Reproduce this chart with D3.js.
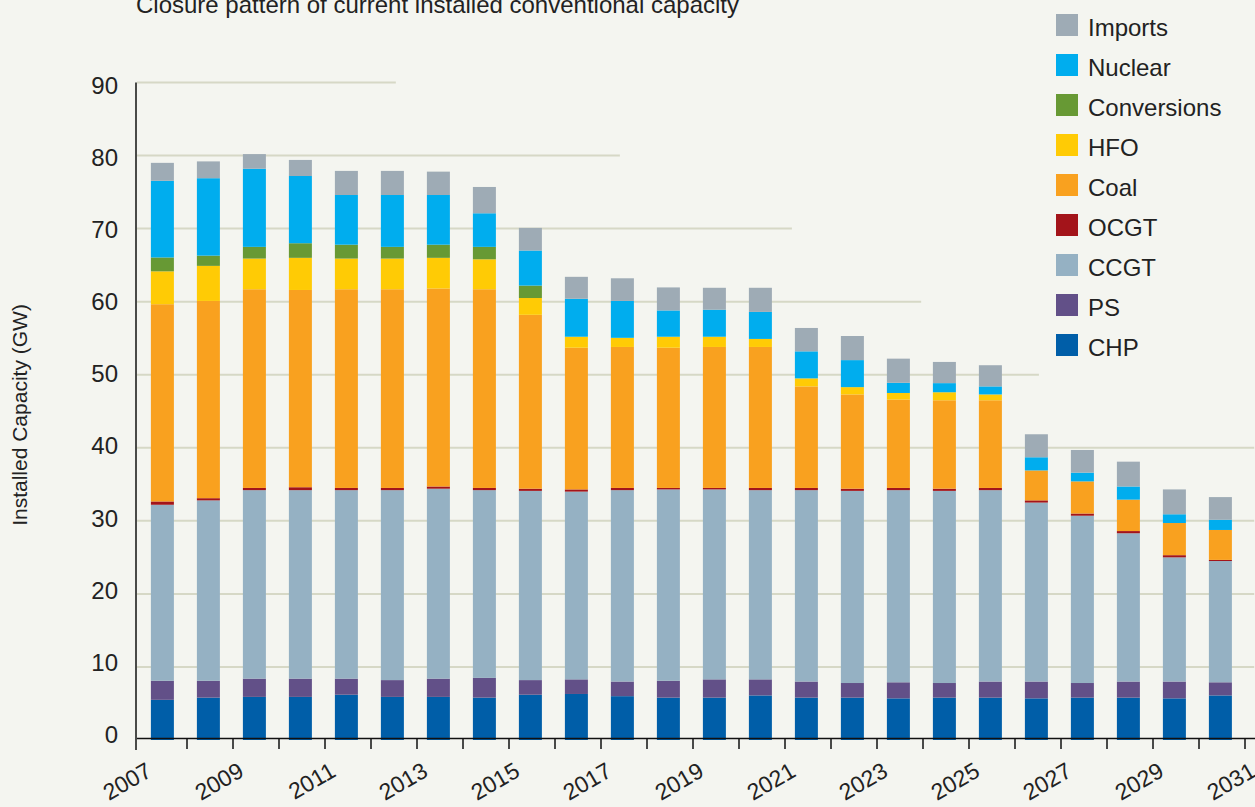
<!DOCTYPE html>
<html>
<head>
<meta charset="utf-8">
<script src="https://cdn.jsdelivr.net/npm/d3@7/dist/d3.min.js"></script>
<style>
  html, body { margin: 0; padding: 0; background: #f4f5f0; }
  svg { display: block; font-family: "Liberation Sans", Arial, sans-serif; }
</style>
</head>
<body>
<svg id="chart" width="1255" height="807"></svg>
<script>
// ---- data ----
const years = [2007,2008,2009,2010,2011,2012,2013,2014,2015,2016,2017,2018,2019,2020,2021,2022,2023,2024,2025,2026,2027,2028,2029,2030];
const chp        = [5.5,5.8,5.9,5.9,6.2,5.9,5.9,5.8,6.2,6.3,6.0,5.8,5.8,6.1,5.8,5.8,5.7,5.8,5.8,5.7,5.8,5.8,5.7,6.1];
const ps         = [2.6,2.3,2.5,2.5,2.2,2.3,2.5,2.7,2.0,2.0,2.0,2.3,2.5,2.2,2.2,2.0,2.2,2.0,2.2,2.3,2.0,2.2,2.3,1.8];
const ccgt       = [24.1,24.7,25.8,25.8,25.8,26.0,26.0,25.7,25.9,25.7,26.2,26.2,26.0,25.9,26.2,26.3,26.3,26.3,26.2,24.5,22.9,20.3,17.0,16.6];
const ocgt       = [0.45,0.3,0.3,0.4,0.3,0.3,0.3,0.3,0.3,0.3,0.3,0.2,0.2,0.3,0.3,0.3,0.3,0.3,0.3,0.3,0.3,0.3,0.3,0.15];
const coal       = [27.0,27.0,27.2,27.0,27.2,27.2,27.1,27.2,23.8,19.4,19.3,19.2,19.3,19.3,13.9,12.9,12.1,12.1,12.0,4.1,4.4,4.3,4.4,4.1];
const hfo        = [4.5,4.8,4.2,4.4,4.2,4.2,4.2,4.1,2.3,1.5,1.25,1.5,1.4,1.1,1.1,1.0,0.9,1.1,0.8,0,0,0,0,0];
const conversions= [1.9,1.4,1.6,2.0,1.9,1.6,1.8,1.7,1.7,0,0,0,0,0,0,0,0,0,0,0,0,0,0,0];
const nuclear    = [10.5,10.6,10.7,9.2,6.8,7.1,6.8,4.6,4.8,5.2,5.05,3.6,3.7,3.7,3.7,3.7,1.4,1.25,1.1,1.8,1.2,1.8,1.2,1.4];
const imports    = [2.45,2.3,2.0,2.2,3.3,3.3,3.2,3.6,3.1,3.0,3.1,3.15,3.0,3.3,3.2,3.3,3.3,2.9,2.9,3.15,3.1,3.4,3.4,3.1];

const seriesNames  = ["CHP","PS","CCGT","OCGT","Coal","HFO","Conversions","Nuclear","Imports"];
const seriesValues = [chp, ps, ccgt, ocgt, coal, hfo, conversions, nuclear, imports];
const seriesColors = ["#005ea8","#625088","#95b1c3","#a3141a","#f9a11f","#ffcb05","#679934","#00adee","#9eabb5"];
const legendOrder  = ["Imports","Nuclear","Conversions","HFO","Coal","OCGT","CCGT","PS","CHP"];

const yTicks = [0,10,20,30,40,50,60,70,80,90];
const tickYears = d3.range(2008, 2032);
const labelYears = [2007,2009,2011,2013,2015,2017,2019,2021,2023,2025,2027,2029,2031];
// gridline extents (in year units of the x axis) as drawn in the original
const gridValues = [10,20,30,40,50,60,70,80,90];
const gridEndYear = [2031.2,2031.2,2031.2,2031.2,2026.52,2023.96,2021.15,2017.41,2012.54];

const titleText = "Closure pattern of current installed conventional capacity";
const yLabelText = "Installed Capacity (GW)";

// ---- build ----
const svg = d3.select("#chart");
const x = d3.scaleLinear().domain([2007, 2031]).range([141, 1245]);
const y = d3.scaleLinear().domain([0, 90]).range([740, 82.5]);
const yLab = d3.scaleLinear().domain([0, 90]).range([734.5, 85]);

const rows = years.map((yr, i) => {
  const r = { year: yr };
  seriesNames.forEach((n, k) => r[n] = seriesValues[k][i]);
  return r;
});
const stack = d3.stack().keys(seriesNames)(rows);
const color = d3.scaleOrdinal().domain(seriesNames).range(seriesColors);

// title
svg.append("text").attr("x", 136).attr("y", 13).attr("font-size", 24)
  .attr("fill", "#222").text(titleText);

// gridlines
svg.append("g").selectAll("line").data(gridValues).join("line")
  .attr("x1", 137).attr("x2", (d, i) => x(gridEndYear[i]))
  .attr("y1", d => y(d)).attr("y2", d => y(d))
  .attr("stroke", "#d6d8c6").attr("stroke-width", 2);

// bars
svg.append("g").selectAll("g").data(stack).join("g")
  .attr("fill", d => color(d.key))
  .selectAll("rect").data(d => d).join("rect")
  .attr("x", d => x(d.data.year + 0.215))
  .attr("width", d => x(d.data.year + 0.715) - x(d.data.year + 0.215))
  .attr("y", d => y(d[1]))
  .attr("height", d => Math.max(0, y(d[0]) - y(d[1])));

// y axis line
svg.append("line").attr("x1", 136).attr("x2", 136).attr("y1", y(90)).attr("y2", 750)
  .attr("stroke", "#111").attr("stroke-width", 1.5);
// x axis line
svg.append("line").attr("x1", 137).attr("x2", 1255).attr("y1", 738.5).attr("y2", 738.5)
  .attr("stroke", "#111").attr("stroke-width", 1.5);
// x ticks
svg.append("g").selectAll("line").data(tickYears).join("line")
  .attr("x1", d => x(d)).attr("x2", d => x(d)).attr("y1", 739).attr("y2", 749)
  .attr("stroke", "#111").attr("stroke-width", 1.5);

// y tick labels
svg.append("g").selectAll("text").data(yTicks).join("text")
  .attr("x", 118).attr("y", d => yLab(d)).attr("dy", "0.36em")
  .attr("text-anchor", "end").attr("font-size", 24).attr("fill", "#222")
  .text(d => d);

// x tick labels
svg.append("g").selectAll("text").data(labelYears).join("text")
  .attr("transform", d => `translate(${x(d) + 4},761) rotate(-30)`)
  .attr("dy", "0.72em").attr("text-anchor", "end")
  .attr("font-size", 23).attr("fill", "#222")
  .text(d => d);

// y label
svg.append("text").attr("transform", "translate(27,415) rotate(-90)")
  .attr("text-anchor", "middle").attr("font-size", 21).attr("fill", "#222")
  .text(yLabelText);

// legend
const lg = svg.append("g").selectAll("g").data(legendOrder).join("g")
  .attr("transform", (d, i) => `translate(1056,${14 + 40 * i})`);
lg.append("rect").attr("width", 22).attr("height", 22).attr("fill", d => color(d));
lg.append("text").attr("x", 32).attr("y", 22).attr("font-size", 24).attr("fill", "#222").text(d => d);
</script>
</body>
</html>
